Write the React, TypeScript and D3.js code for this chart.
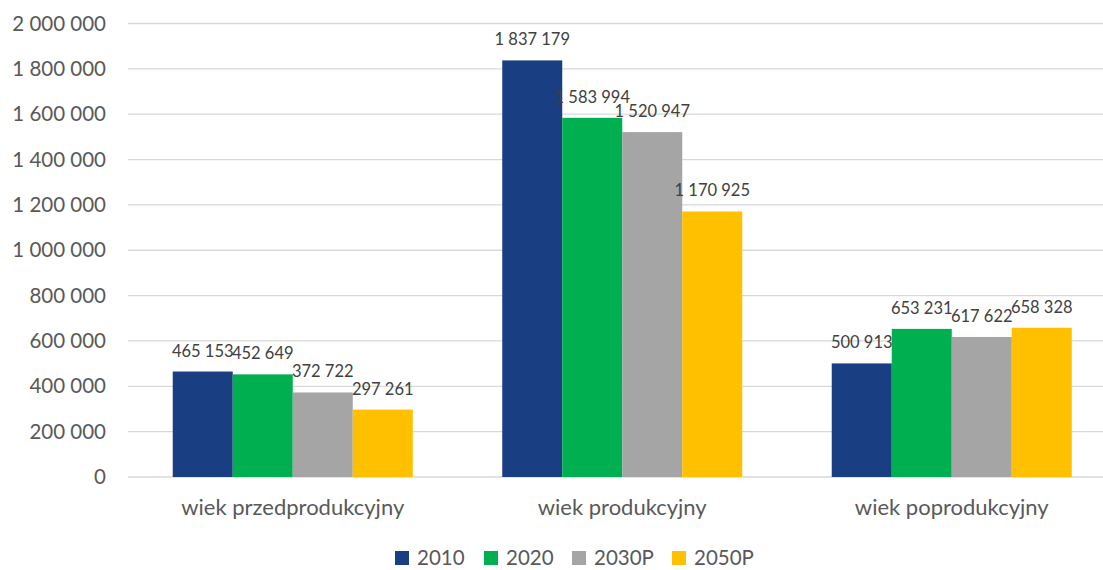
import * as d3 from 'd3';

const categories = ['wiek przedprodukcyjny', 'wiek produkcyjny', 'wiek poprodukcyjny'];
const seriesNames = ['2010', '2020', '2030P', '2050P'];
const values2010 = [465153, 1837179, 500913];
const values2020 = [452649, 1583994, 653231];
const values2030 = [372722, 1520947, 617622];
const values2050 = [297261, 1170925, 658328];
const yTicks = [0, 200000, 400000, 600000, 800000, 1000000, 1200000, 1400000, 1600000, 1800000, 2000000];

const colors = ['#1A3E82', '#00B050', '#A5A5A5', '#FFC000'];

const width = 1103;
const height = 570;
const font = 'Lato, "Open Sans", sans-serif';
const textColor = '#595959';

const locale = d3.formatLocale({
  decimal: ',',
  thousands: ' ',
  grouping: [3],
  currency: ['', ' zł'],
});
const fmt = locale.format(',d');

export default function App() {
  const series = [values2010, values2020, values2030, values2050];

  const x0 = d3
    .scaleBand<string>()
    .domain(categories)
    .range([128, 1116.5])
    .paddingInner(0.2716)
    .paddingOuter(0.1358);

  const x1 = d3
    .scaleBand<string>()
    .domain(seriesNames)
    .range([0, x0.bandwidth()]);

  const y = d3.scaleLinear().domain([0, 2000000]).range([477, 23.5]);

  // legend layout (item widths roughly follow label length)
  const legendX = [395, 484, 572, 672];

  return (
    <svg
      width={width}
      height={height}
      style={{ position: 'absolute', left: 0, top: 0, background: '#fff' }}
      fontFamily={font}
    >
      {/* gridlines + y labels */}
      {yTicks.map((t) => (
        <g key={t}>
          <line
            x1={128}
            x2={width}
            y1={y(t)}
            y2={y(t)}
            stroke="#D9D9D9"
            strokeWidth={1.3}
          />
          <text
            x={106}
            y={y(t)}
            dy="0.35em"
            textAnchor="end"
            fontSize={20.5}
            fill={textColor}
          >
            {fmt(t)}
          </text>
        </g>
      ))}

      {/* bars */}
      {categories.map((cat, ci) => (
        <g key={cat} transform={`translate(${x0(cat)},0)`}>
          {seriesNames.map((s, si) => {
            const v = series[si][ci];
            const bx = x1(s) || 0;
            return (
              <rect
                key={s}
                x={bx}
                y={y(v)}
                width={x1.bandwidth()}
                height={y(0) - y(v)}
                fill={colors[si]}
              />
            );
          })}
        </g>
      ))}

      {/* data labels on top */}
      {categories.map((cat, ci) => (
        <g key={cat + '-lbl'} transform={`translate(${x0(cat)},0)`}>
          {seriesNames.map((s, si) => {
            const v = series[si][ci];
            const bx = (x1(s) || 0) + x1.bandwidth() / 2;
            return (
              <text
                key={s}
                x={bx}
                y={y(v) - 15}
                textAnchor="middle"
                fontSize={16.5}
                fill="#404040"
              >
                {fmt(v)}
              </text>
            );
          })}
        </g>
      ))}

      {/* category labels */}
      {categories.map((cat) => (
        <text
          key={cat + '-cat'}
          x={(x0(cat) || 0) + x0.bandwidth() / 2}
          y={515}
          textAnchor="middle"
          fontSize={22}
          fill={textColor}
        >
          {cat}
        </text>
      ))}

      {/* legend */}
      {seriesNames.map((s, i) => (
        <g key={s + '-leg'} transform={`translate(${legendX[i]},0)`}>
          <rect x={0} y={551} width={14} height={14} fill={colors[i]} />
          <text x={22} y={558} dy="0.35em" fontSize={20.5} fill={textColor}>
            {s}
          </text>
        </g>
      ))}
    </svg>
  );
}
